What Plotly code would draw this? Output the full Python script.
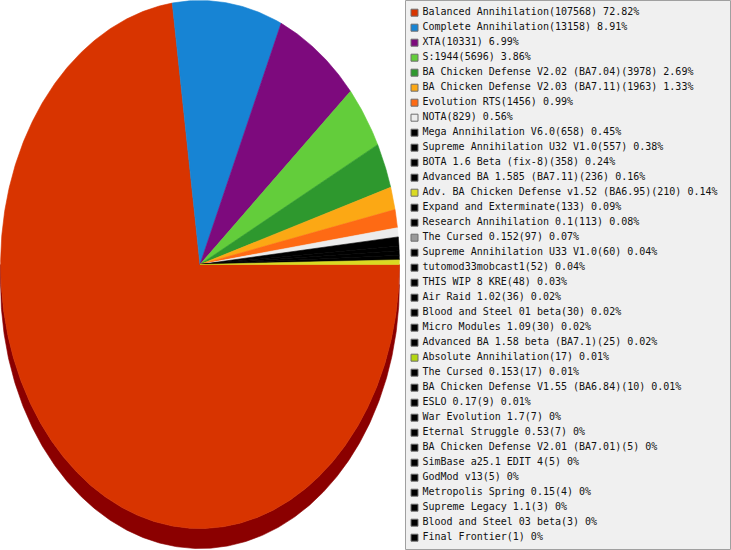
"""
Games played per mod - tilted pie with a boxed legend on the right.
"""

import numpy as np
import plotly.graph_objects as go


MODS = [
    "Balanced Annihilation", "Complete Annihilation", "XTA", "S:1944",
    "BA Chicken Defense V2.02 (BA7.04)", "BA Chicken Defense V2.03 (BA7.11)",
    "Evolution RTS", "NOTA", "Mega Annihilation V6.0",
    "Supreme Annihilation U32 V1.0", "BOTA 1.6 Beta (fix-8)",
    "Advanced BA 1.585 (BA7.11)", "Adv. BA Chicken Defense v1.52 (BA6.95)",
    "Expand and Exterminate", "Research Annihilation 0.1", "The Cursed 0.152",
    "Supreme Annihilation U33 V1.0", "tutomod33mobcast1", "THIS WIP 8 KRE",
    "Air Raid 1.02", "Blood and Steel 01 beta", "Micro Modules 1.09",
    "Advanced BA 1.58 beta (BA7.1)", "Absolute Annihilation", "The Cursed 0.153",
    "BA Chicken Defense V1.55 (BA6.84)", "ESLO 0.17", "War Evolution 1.7",
    "Eternal Struggle 0.53", "BA Chicken Defense V2.01 (BA7.01)",
    "SimBase a25.1 EDIT 4", "GodMod v13", "Metropolis Spring 0.15",
    "Supreme Legacy 1.1", "Blood and Steel 03 beta", "Final Frontier",
]
GAMES = [
    107568, 13158, 10331, 5696, 3978, 1963, 1456, 829, 658, 557, 358, 236, 210,
    133, 113, 97, 60, 52, 48, 36, 30, 30, 25, 17, 17, 10, 9, 7, 7, 5, 5, 5, 4,
    3, 3, 1,
]
COLORS = [
    "#d83400", "#1784d4", "#7d0a7d", "#63cd3b", "#2e982e", "#fca814", "#fe6a14",
    "#ececec", "#000000", "#000000", "#000000", "#000000", "#dada22", "#000000",
    "#000000", "#9a9a9a", "#000000", "#000000", "#000000", "#000000", "#000000",
    "#000000", "#000000", "#b3d610", "#000000", "#000000", "#000000", "#000000",
    "#000000", "#000000", "#000000", "#000000", "#000000", "#000000", "#000000",
    "#000000",
]
SIDE_COLOR = "#8b0000"

TOTAL = sum(GAMES)
SHARES = [100 * g / TOTAL for g in GAMES]
LABELS = [f"{m}({g}) {round(s, 2):g}%" for m, g, s in zip(MODS, GAMES, SHARES)]
# the original renderer works in whole degrees, so tiny mods vanish from the pie
SWEEPS = [round(3.6 * s) for s in SHARES]

W, H = 731, 550
DEPTH = 20 / 264  # thickness of the pie in y units (ry = 1)


def arc(a0, a1):
    a = np.radians(np.linspace(a0, a1, max(2, int((a1 - a0) * 2) + 1)))
    # clockwise on screen starting at 3 o'clock
    return np.cos(a), -np.sin(a)


fig = go.Figure()

# side wall, only the front (lower) half is visible
start = 0
for sweep, color in zip(SWEEPS, COLORS):
    lo, hi = max(start, 0), min(start + sweep, 180)
    if sweep > 0 and hi > lo:
        x, y = arc(lo, hi)
        fig.add_trace(go.Scatter(
            x=np.concatenate([x, x[::-1]]),
            y=np.concatenate([y, (y - DEPTH)[::-1]]),
            fill="toself", fillcolor=SIDE_COLOR, mode="lines",
            line=dict(width=0.6, color=SIDE_COLOR), hoverinfo="skip", showlegend=False,
        ))
    start += sweep

# top surface
start = 0
for label, sweep, color in zip(LABELS, SWEEPS, COLORS):
    if sweep > 0:
        x, y = arc(start, start + sweep)
        fig.add_trace(go.Scatter(
            x=np.concatenate([[0], x, [0]]),
            y=np.concatenate([[0], y, [0]]),
            fill="toself", fillcolor=color, mode="lines",
            line=dict(width=0.6, color=color), name=label,
            hoverinfo="name", showlegend=False,
        ))
    start += sweep

# legend as its own little subplot
rows = list(range(len(LABELS)))
fig.add_trace(go.Scatter(
    x=[9.5] * len(rows), y=rows, mode="markers",
    marker=dict(symbol="square", size=7, color=COLORS, line=dict(width=1, color="#6e6e6e")),
    xaxis="x2", yaxis="y2", hoverinfo="skip", showlegend=False,
))
fig.add_trace(go.Scatter(
    x=[17.5] * len(rows), y=rows, mode="text", text=LABELS,
    textposition="middle right",
    textfont=dict(family="DejaVu Sans Mono", size=10, color="#111111"),
    xaxis="x2", yaxis="y2", hoverinfo="skip", showlegend=False,
))

fig.add_shape(
    type="rect", xref="paper", yref="paper", layer="below",
    x0=405.5 / W, x1=730.5 / W, y0=1 - 549.5 / H, y1=1 - 0.5 / H,
    fillcolor="#f0f0f0", line=dict(color="#a0a0a0", width=1),
)

fig.update_layout(
    width=W, height=H,
    margin=dict(l=0, r=0, t=0, b=0),
    paper_bgcolor="white", plot_bgcolor="rgba(0,0,0,0)",
    showlegend=False,
    xaxis=dict(domain=[0, 400 / W], range=[-1.003, 1.003], visible=False, fixedrange=True),
    yaxis=dict(domain=[0, 1], range=[-(H - 264.5) / 264, 264.5 / 264], visible=False, fixedrange=True),
    xaxis2=dict(domain=[405 / W, 730 / W], range=[0, 325], anchor="y2", visible=False, fixedrange=True),
    yaxis2=dict(domain=[0, 1], range=[(H - 12.7) / 15, -12.7 / 15], anchor="x2", visible=False, fixedrange=True),
)

# drop the default body margin so the figure fills the window exactly
fig.write_html(
    "out.html",
    config={"displayModeBar": False},
    post_script="document.body.style.margin = '0';",
)
